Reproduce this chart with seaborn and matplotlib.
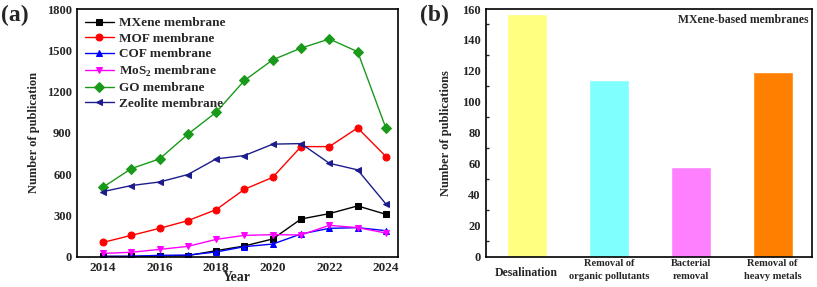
import numpy as np
import pandas as pd
import matplotlib
matplotlib.use("Agg")
import matplotlib.pyplot as plt
from matplotlib.ticker import MultipleLocator
import seaborn as sns

# ---------------------------
# DATA
# ---------------------------
years = [2014, 2015, 2016, 2017, 2018, 2019, 2020, 2021, 2022, 2023, 2024]
mxene = [2, 2, 5, 8, 44, 78, 129, 274, 313, 369, 308]
mof = [104, 155, 206, 262, 342, 490, 577, 800, 800, 936, 728]
cof = [2, 3, 10, 12, 34, 73, 92, 165, 206, 211, 189]
mos2 = [24, 32, 53, 75, 126, 155, 160, 158, 228, 211, 172]
go = [505, 640, 711, 890, 1050, 1281, 1431, 1516, 1582, 1490, 934]
zeolite = [473, 517, 543, 597, 711, 735, 818, 822, 679, 631, 383]

series_names = ["MXene membrane", "MOF membrane", "COF membrane",
                r"MoS$_\mathbf{2}$ membrane", "GO membrane", "Zeolite membrane"]
series_values = [mxene, mof, cof, mos2, go, zeolite]
series_colors = ["black", "red", "blue", "magenta", "#1a9a1a", "#1c1c8c"]
series_markers = ["s", "o", "^", "v", "D", "<"]

apps = ["Desalination", "Removal of\norganic pollutants", "Bacterial\nremoval",
        "Removal of\nheavy metals"]
app_counts = [157, 114, 58, 119]
app_colors = ["#ffff80", "#80ffff", "#ff80ff", "#ff8000"]

# ---------------------------
# STYLE
# ---------------------------
sns.set_style("white")
plt.rcParams["font.family"] = ["Liberation Serif", "DejaVu Serif"]
plt.rcParams["font.weight"] = "bold"
plt.rcParams["axes.labelweight"] = "bold"
plt.rcParams["mathtext.fontset"] = "custom"
plt.rcParams["mathtext.rm"] = "Liberation Serif:bold"
plt.rcParams["mathtext.bf"] = "Liberation Serif:bold"

fig = plt.figure(figsize=(8.17, 2.87), dpi=100)
ax1 = fig.add_axes([0.0939, 0.1056, 0.393, 0.863])
ax2 = fig.add_axes([0.5945, 0.1056, 0.3994, 0.863])

# ---------------------------
# (a) line chart
# ---------------------------
rows = []
for name, vals in zip(series_names, series_values):
    for yr, v in zip(years, vals):
        rows.append({"Year": yr, "count": v, "series": name})
df = pd.DataFrame(rows)

for name, color, mk in zip(series_names, series_colors, series_markers):
    sub = df[df["series"] == name]
    sns.lineplot(data=sub, x="Year", y="count", ax=ax1, color=color, marker=mk,
                 markersize=5, markeredgecolor=color, linewidth=1.0, label=name)

ax1.set_xlim(2013.07, 2024.42)
ax1.set_ylim(0, 1800)
ax1.xaxis.set_major_locator(MultipleLocator(2))
ax1.xaxis.set_minor_locator(MultipleLocator(1))
ax1.yaxis.set_major_locator(MultipleLocator(300))
ax1.yaxis.set_minor_locator(MultipleLocator(150))
ax1.set_xlabel("Year", fontsize=10, labelpad=-2)
ax1.set_ylabel("Number of publication", fontsize=9, labelpad=5)
leg = ax1.legend(loc="upper left", frameon=False, fontsize=9.5, handlelength=2.2,
                 borderaxespad=0.2, labelspacing=0.25, handletextpad=0.4)
ax1.text(-0.235, 0.976, "(a)", transform=ax1.transAxes, fontsize=17,
         fontweight="bold", ha="left", va="center")

# ---------------------------
# (b) bar chart
# ---------------------------
bdf = pd.DataFrame({"app": apps, "count": app_counts})
sns.barplot(data=bdf, x="app", y="count", hue="app", palette=app_colors,
            legend=False, ax=ax2, width=0.49, saturation=1)
ax2.set_xlim(-0.5, 3.48)
ax2.set_ylim(0, 160)
ax2.yaxis.set_major_locator(MultipleLocator(20))
ax2.yaxis.set_minor_locator(MultipleLocator(10))
ax2.set_xlabel("")
ax2.set_ylabel("Number of publications", fontsize=9, labelpad=7)
ax2.tick_params(axis="x", length=0, pad=2)
for lab in ax2.get_xticklabels():
    lab.set_fontsize(7.5)
    lab.set_linespacing(1.45)
ax2.get_xticklabels()[0].set_fontsize(8.5)
ax2.get_xticklabels()[0].set_y(-0.03)
ax2.text(0.99, 0.957, "MXene-based membranes", transform=ax2.transAxes,
         fontsize=8.5, fontweight="bold", ha="right", va="center")
ax2.text(-0.2, 0.976, "(b)", transform=ax2.transAxes, fontsize=17,
         fontweight="bold", ha="left", va="center")

for ax in (ax1, ax2):
    for sp in ax.spines.values():
        sp.set_linewidth(1.2)
        sp.set_color("black")
    ax.tick_params(axis="both", which="both", direction="in", top=False, right=False)
    ax.tick_params(which="major", length=4, width=1)
    ax.tick_params(which="minor", length=2, width=1)
    for lab in ax.get_yticklabels():
        lab.set_fontsize(9)
        lab.set_fontweight("bold")
    for lab in ax.get_xticklabels():
        lab.set_fontweight("bold")
for lab in ax1.get_xticklabels():
    lab.set_fontsize(9.5)
ax2.tick_params(axis="x", which="both", bottom=False)
ax2.tick_params(axis="y", which="minor", left=True)

fig.savefig("out.png", dpi=100)
